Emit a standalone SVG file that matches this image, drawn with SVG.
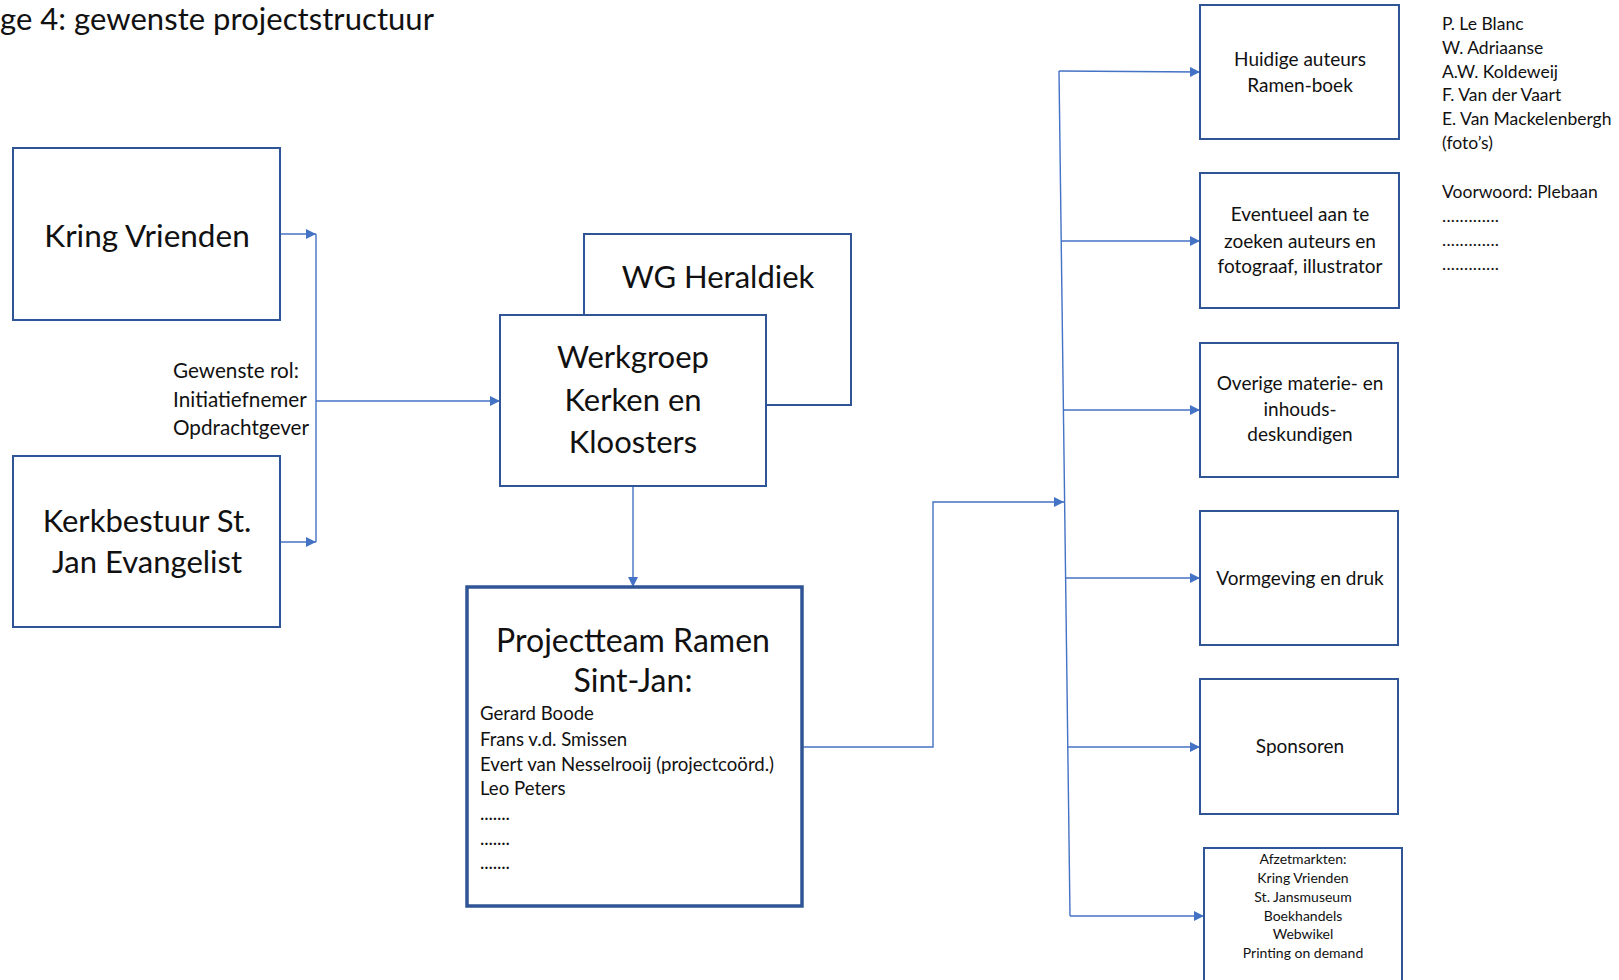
<svg xmlns="http://www.w3.org/2000/svg" width="1619" height="980" viewBox="0 0 1619 980">
<style>
text{font-family:Lato,"Open Sans","Liberation Sans",sans-serif;fill:#111;}
.box{fill:#fff;stroke:#2F5597;stroke-width:2;}
.thick{fill:#fff;stroke:#2F5597;stroke-width:3.5;}
.big{font-size:31px;text-anchor:middle;}
.mid{font-size:19px;text-anchor:middle;}
.lbl{font-size:20.7px;}
.mem{font-size:18.6px;}
.lst{font-size:17.5px;}
.sm{font-size:14px;text-anchor:middle;}
.con{fill:none;stroke:#4472C4;stroke-width:1.4;}
</style>
<defs>
<marker id="arr" viewBox="0 0 10 10" refX="10" refY="5" markerWidth="10" markerHeight="10" markerUnits="userSpaceOnUse" orient="auto">
<path d="M0,0 L10,5 L0,10 z" fill="#4472C4"/>
</marker>
</defs>
<rect width="1619" height="980" fill="#fff"/>
<text x="0" y="30" style="font-size:31px" textLength="434" lengthAdjust="spacing">ge 4: gewenste projectstructuur</text>

<g id="connectors">
<path class="con" d="M280,234 H316" marker-end="url(#arr)"/>
<path class="con" d="M280,542 H316" marker-end="url(#arr)"/>
<path class="con" d="M316,234 V542"/>
<path class="con" d="M316,401 H500" marker-end="url(#arr)"/>
<path class="con" d="M633,486 V587" marker-end="url(#arr)"/>
<path class="con" d="M802,747 H933 V502 H1064" marker-end="url(#arr)"/>
<path class="con" d="M1059,71 L1070,916"/>
<path class="con" d="M1059,71 L1200,72" marker-end="url(#arr)"/>
<path class="con" d="M1061,241 H1200" marker-end="url(#arr)"/>
<path class="con" d="M1063,410 H1200" marker-end="url(#arr)"/>
<path class="con" d="M1065,578 H1200" marker-end="url(#arr)"/>
<path class="con" d="M1067,747 H1200" marker-end="url(#arr)"/>
<path class="con" d="M1070,916 H1204" marker-end="url(#arr)"/>
</g>

<g id="kring">
<rect class="box" x="13" y="148" width="267" height="172"/>
<text class="big" x="147" y="247" style="font-size:31.5px">Kring Vrienden</text>
</g>
<g id="kerkbestuur">
<rect class="box" x="13" y="456" width="267" height="171"/>
<text class="big" x="147" y="532">Kerkbestuur St.</text>
<text class="big" x="147" y="573">Jan Evangelist</text>
</g>
<g id="rol">
<text class="lbl" x="173" y="378">Gewenste rol:</text>
<text class="lbl" x="173" y="407">Initiatiefnemer</text>
<text class="lbl" x="173" y="435">Opdrachtgever</text>
</g>
<g id="heraldiek">
<rect class="box" x="584" y="234" width="267" height="171"/>
<text class="big" x="718" y="288">WG Heraldiek</text>
</g>
<g id="werkgroep">
<rect class="box" x="500" y="315" width="266" height="171"/>
<text class="big" x="633" y="368">Werkgroep</text>
<text class="big" x="633" y="410.5">Kerken en</text>
<text class="big" x="633" y="453">Kloosters</text>
</g>
<g id="projectteam">
<rect class="thick" x="467" y="587" width="335" height="319"/>
<text class="big" x="633" y="652" style="font-size:32px">Projectteam Ramen</text>
<text class="big" x="633" y="692" style="font-size:32px">Sint-Jan:</text>
<text class="mem" x="480" y="720">Gerard Boode</text>
<text class="mem" x="480" y="746">Frans v.d. Smissen</text>
<text class="mem" x="480" y="771">Evert van Nesselrooij (projectcoörd.)</text>
<text class="mem" x="480" y="795">Leo Peters</text>
<text class="mem" x="480" y="820" textLength="30" lengthAdjust="spacing">.......</text>
<text class="mem" x="480" y="845" textLength="30" lengthAdjust="spacing">.......</text>
<text class="mem" x="480" y="869" textLength="30" lengthAdjust="spacing">.......</text>
</g>
<g id="huidige">
<rect class="box" x="1200" y="5" width="199" height="134"/>
<text class="mid" x="1300" y="66">Huidige auteurs</text>
<text class="mid" x="1300" y="92">Ramen-boek</text>
</g>
<g id="auteurslijst">
<text class="lst" x="1442" y="30">P. Le Blanc</text>
<text class="lst" x="1442" y="54">W. Adriaanse</text>
<text class="lst" x="1442" y="78">A.W. Koldeweij</text>
<text class="lst" x="1442" y="101">F. Van der Vaart</text>
<text class="lst" x="1442" y="125">E. Van Mackelenbergh</text>
<text class="lst" x="1442" y="149">(foto’s)</text>
<text class="lst" x="1442" y="198">Voorwoord: Plebaan</text>
<text class="lst" x="1442" y="222" textLength="57" lengthAdjust="spacing">.............</text>
<text class="lst" x="1442" y="246" textLength="57" lengthAdjust="spacing">.............</text>
<text class="lst" x="1442" y="270" textLength="57" lengthAdjust="spacing">.............</text>
</g>
<g id="eventueel">
<rect class="box" x="1200" y="173" width="199" height="135"/>
<text class="mid" x="1300" y="221">Eventueel aan te</text>
<text class="mid" x="1300" y="248">zoeken auteurs en</text>
<text class="mid" x="1300" y="273">fotograaf, illustrator</text>
</g>
<g id="overige">
<rect class="box" x="1200" y="343" width="198" height="134"/>
<text class="mid" x="1300" y="390">Overige materie- en</text>
<text class="mid" x="1300" y="416">inhouds-</text>
<text class="mid" x="1300" y="441">deskundigen</text>
</g>
<g id="vormgeving">
<rect class="box" x="1200" y="511" width="198" height="134"/>
<text class="mid" x="1300" y="585">Vormgeving en druk</text>
</g>
<g id="sponsoren">
<rect class="box" x="1200" y="679" width="198" height="135"/>
<text class="mid" x="1300" y="753">Sponsoren</text>
</g>
<g id="afzetmarkten">
<rect class="box" x="1204" y="848" width="198" height="140"/>
<text class="sm" x="1303" y="864">Afzetmarkten:</text>
<text class="sm" x="1303" y="883">Kring Vrienden</text>
<text class="sm" x="1303" y="902">St. Jansmuseum</text>
<text class="sm" x="1303" y="921">Boekhandels</text>
<text class="sm" x="1303" y="939">Webwikel</text>
<text class="sm" x="1303" y="958">Printing on demand</text>
</g>
</svg>
